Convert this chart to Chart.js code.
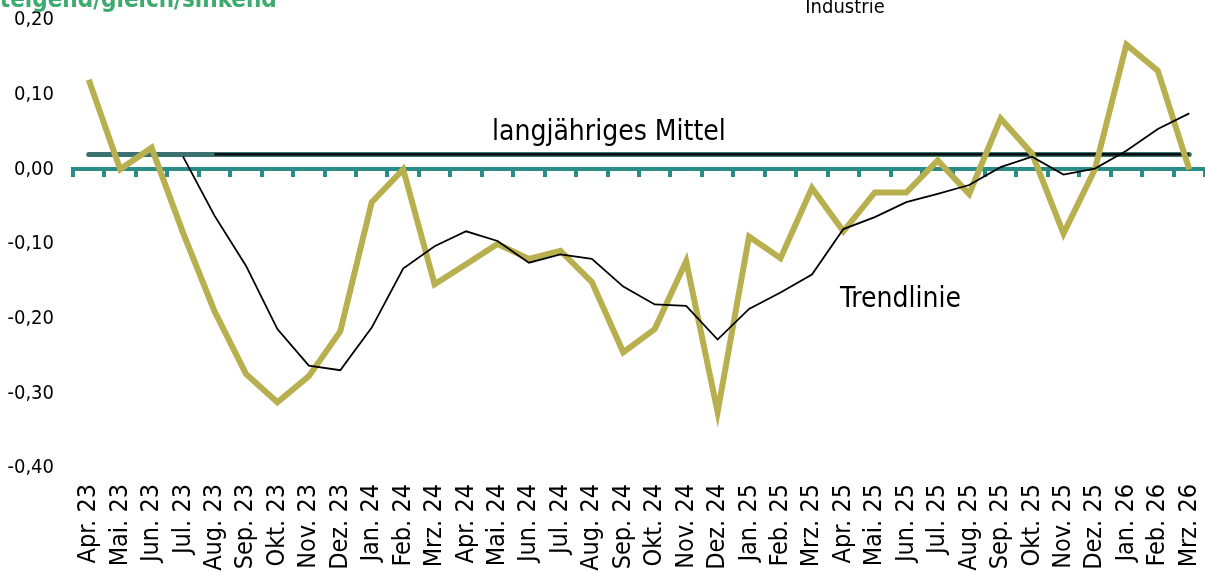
<!DOCTYPE html>
<html><head><meta charset="utf-8">
<script src="https://cdn.jsdelivr.net/npm/chart.js@4"></script>
<style>html,body{margin:0;padding:0;background:#fff;overflow:hidden}canvas{display:block}</style>
</head><body>
<canvas id="c" width="1205" height="571"></canvas>
<script>
const categories = ["Apr. 23","Mai. 23","Jun. 23","Jul. 23","Aug. 23","Sep. 23","Okt. 23","Nov. 23","Dez. 23",
  "Jan. 24","Feb. 24","Mrz. 24","Apr. 24","Mai. 24","Jun. 24","Jul. 24","Aug. 24","Sep. 24","Okt. 24","Nov. 24","Dez. 24",
  "Jan. 25","Feb. 25","Mrz. 25","Apr. 25","Mai. 25","Jun. 25","Jul. 25","Aug. 25","Sep. 25","Okt. 25","Nov. 25","Dez. 25",
  "Jan. 26","Feb. 26","Mrz. 26"];
const monthlyValues = [0.120,0.000,0.029,-0.085,-0.190,-0.274,-0.312,-0.277,-0.217,
  -0.044,0.000,-0.154,-0.127,-0.100,-0.120,-0.109,-0.151,-0.245,-0.214,-0.123,-0.325,
  -0.090,-0.119,-0.025,-0.083,-0.031,-0.031,0.012,-0.033,0.068,0.021,-0.086,0.000,
  0.167,0.132,0.000];
const trendValues = [null,null,null,0.017,-0.062,-0.129,-0.214,-0.263,-0.269,
  -0.212,-0.133,-0.103,-0.083,-0.096,-0.125,-0.114,-0.120,-0.157,-0.181,-0.183,-0.228,
  -0.187,-0.165,-0.141,-0.080,-0.064,-0.044,-0.033,-0.021,0.003,0.017,-0.007,0.001,
  0.025,0.054,0.075];
const longTermMean = [0.02,0.02,0.02,0.02,0.02,0.02,0.02,0.02,0.02,
  0.02,0.02,0.02,0.02,0.02,0.02,0.02,0.02,0.02,0.02,0.02,0.02,
  0.02,0.02,0.02,0.02,0.02,0.02,0.02,0.02,0.02,0.02,0.02,0.02,
  0.02,0.02,0.02];
const longTermMeanOverlay = [null,null,null,null,0.02,0.02,0.02,0.02,0.02,
  0.02,0.02,0.02,0.02,0.02,0.02,0.02,0.02,0.02,0.02,0.02,0.02,
  0.02,0.02,0.02,0.02,0.02,0.02,0.02,0.02,0.02,0.02,0.02,0.02,
  0.02,0.02,0.02];
const yTickValues = [0.2,0.1,0,-0.1,-0.2,-0.3,-0.4];
const titleText = "steigend/gleich/sinkend";
const subtitleText = "Industrie";
const meanLabel = "langjähriges Mittel";
const trendLabel = "Trendlinie";

const FONT = "'DejaVu Sans Condensed','DejaVu Sans',sans-serif";

const textPlugin = {
  id: 'texts',
  afterDraw(chart) {
    const ctx = chart.ctx;
    ctx.save();
    ctx.textBaseline = 'alphabetic';
    ctx.fillStyle = '#3DAA6E';
    ctx.font = "bold 24px " + FONT;
    ctx.textAlign = 'left';
    ctx.fillText(titleText, -13, 7);
    ctx.fillStyle = '#000';
    ctx.font = "20px " + FONT;
    ctx.textAlign = 'center';
    ctx.fillText(subtitleText, 845, 13);
    ctx.font = "28px " + FONT;
    ctx.textAlign = 'left';
    ctx.fillText(meanLabel, 492, 140);
    ctx.fillText(trendLabel, 840, 307);
    ctx.restore();
  }
};

function noPad(s) { s.paddingLeft = 0; s.paddingRight = 0; s.paddingTop = 0; s.paddingBottom = 0; }

new Chart(document.getElementById('c'), {
  type: 'line',
  data: {
    labels: categories,
    datasets: [
      { label: 'Trendlinie', data: trendValues, borderColor: '#000', borderWidth: 1.8, pointRadius: 0, tension: 0, order: 1, spanGaps: false },
      { label: 'Monatswerte', data: monthlyValues, borderColor: '#B8B04E', borderWidth: 6, pointRadius: 0, tension: 0, borderJoinStyle: 'miter', order: 2 },
      { label: 'Mittel (Linie)', data: longTermMeanOverlay, borderColor: '#000', borderWidth: 2.2, pointRadius: 0, order: 3 },
      { label: 'langjähriges Mittel', data: longTermMean, borderColor: '#3B716E', borderWidth: 5, pointRadius: 0, borderCapStyle: 'round', order: 4 }
    ]
  },
  options: {
    responsive: false,
    animation: false,
    events: [],
    layout: { padding: { top: 20, left: 0, right: 0, bottom: 0 } },
    plugins: { legend: { display: false }, tooltip: { enabled: false }, title: { display: false } },
    scales: {
      x: {
        type: 'category',
        position: 'bottom',
        offset: true,
        grid: { display: false, drawTicks: false },
        border: { display: false },
        ticks: { autoSkip: false, maxRotation: 90, minRotation: 90, padding: 16, color: '#000', font: { family: FONT, size: 25 } },
        afterFit(s) { s.height = 103; noPad(s); }
      },
      x0: {
        type: 'category',
        labels: categories,
        position: { y: 0 },
        offset: true,
        grid: { display: true, drawOnChartArea: false, drawTicks: true, tickLength: 6, tickColor: '#2A8C86', lineWidth: 4, offset: true },
        border: { display: true, color: '#2A8C86', width: 4 },
        ticks: { display: false },
        afterFit(s) { noPad(s); }
      },
      y: {
        min: -0.4, max: 0.2,
        afterBuildTicks(s) { s.ticks = yTickValues.map(v => ({ value: v })); },
        grid: { display: false, drawTicks: false },
        border: { display: false },
        ticks: {
          padding: 19, color: '#000', font: { family: FONT, size: 20 },
          callback(v) { if (Math.abs(v) < 1e-9) v = 0; return v.toFixed(2).replace('.', ','); }
        },
        afterFit(s) { s.width = 73; noPad(s); }
      }
    }
  },
  plugins: [textPlugin]
});
</script>
</body></html>
